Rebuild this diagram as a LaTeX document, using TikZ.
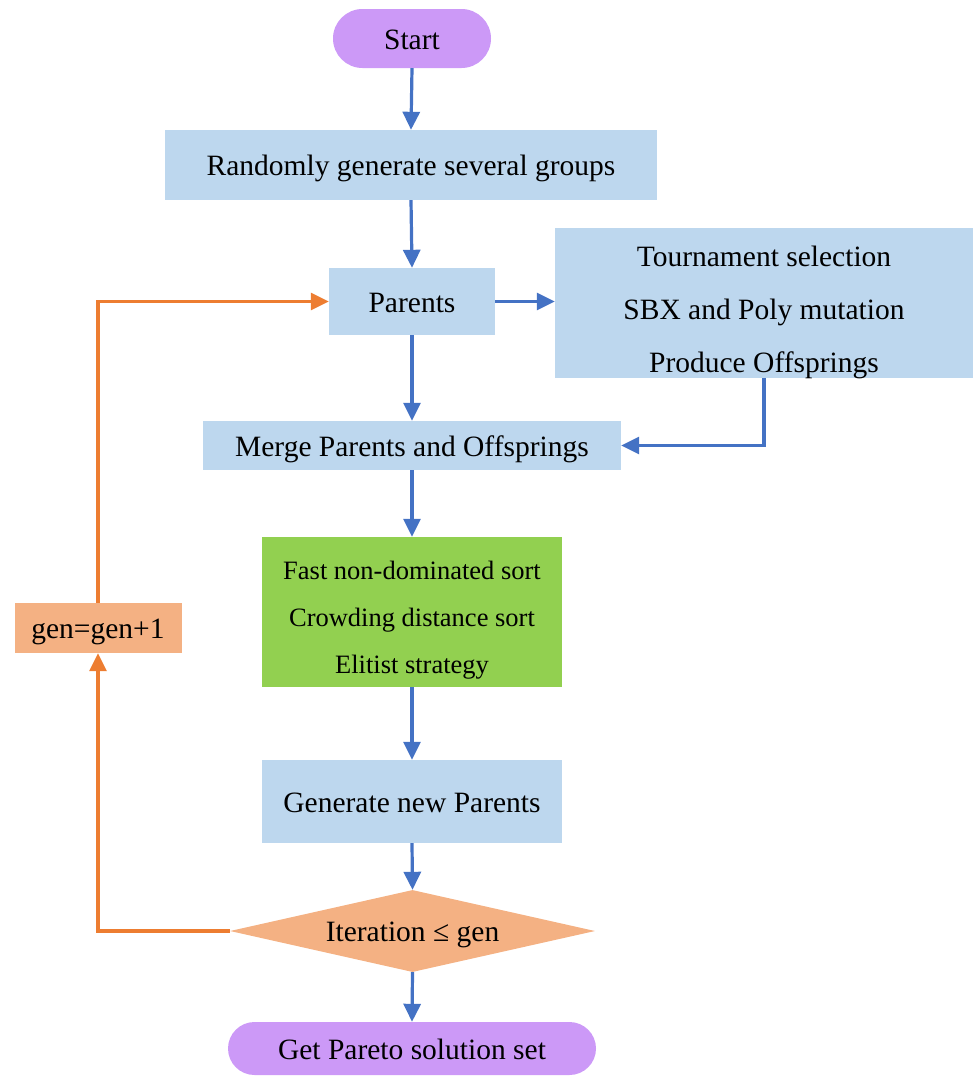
\documentclass[tikz,border=0pt]{standalone}
\usepackage{fontspec}
\setmainfont{Liberation Serif}
\usetikzlibrary{arrows.meta,shapes.geometric,shapes.misc}
\definecolor{cpurple}{HTML}{CC99F7}
\definecolor{cblue}{HTML}{BDD7EE}
\definecolor{cgreen}{HTML}{92D050}
\definecolor{corange}{HTML}{F4B183}
\definecolor{carrow}{HTML}{4472C4}
\definecolor{cloop}{HTML}{ED7D31}
\begin{document}
\begin{tikzpicture}[x=1pt,y=-1pt,
  txt/.style={font=\fontsize{29.5}{53}\selectfont, text=black, inner sep=0pt, align=center},
  oneline/.style={txt, text height=21pt, text depth=0pt},
  pill/.style={oneline, rounded rectangle, fill=cpurple},
  bluebox/.style={oneline, rectangle, fill=cblue},
  plainbox/.style={rectangle, inner sep=0pt},
  greentxt/.style={inner sep=0pt, align=center, font=\fontsize{26.5}{47}\selectfont},
  genbox/.style={oneline, rectangle, fill=corange},
  dia/.style={oneline, diamond, fill=corange, aspect=4.45},
  flow/.style={draw=carrow, line width=3.2pt, -{Triangle[length=18pt,width=17pt]}},
  loop/.style={draw=cloop, line width=3.2pt, -{Triangle[length=18pt,width=17pt]}}
]
\useasboundingbox (0,0) rectangle (973,1077);
\node[pill, minimum width=158, minimum height=59] (start) at (412,38.5) {Start};
\node[bluebox, minimum width=492, minimum height=70] (rand) at (411,165) {Randomly generate several groups};
\node[bluebox, minimum width=166, minimum height=67] (par) at (412,301.5) {Parents};
\node[plainbox, fill=cblue, minimum width=418, minimum height=150] (tour) at (764,303) {};
\node[txt] (tourtxt) at (764,312) {Tournament selection\\SBX and Poly mutation\\Produce Offsprings};
\node[bluebox, minimum width=418, minimum height=49] (merge) at (412,445.5) {Merge Parents and Offsprings};
\node[plainbox, fill=cgreen, minimum width=300, minimum height=150] (sort) at (412,612) {};
\node[greentxt] (sorttxt) at (412,620) {Fast non-dominated sort\\Crowding distance sort\\Elitist strategy};
\node[bluebox, minimum width=300, minimum height=83] (newp) at (412,801.5) {Generate new Parents};
\node[dia, minimum width=365, minimum height=82] (iter) at (412.5,931) {Iteration ≤ gen};
\node[pill, minimum width=368, minimum height=53] (pareto) at (412,1048.5) {Get Pareto solution set};
\node[genbox, minimum width=167, minimum height=50] (gen) at (98,628) {gen=gen+1};

\draw[flow] (start.south) -- (rand.north);
\draw[flow] (rand.north |- rand.south) -- (par.north);
\draw[flow] (par.east) -- (tour.west |- par.east);
\draw[flow] (par.south) -- (merge.north);
\draw[flow] (tour.south) |- (merge.east);
\draw[flow] (merge.south) -- (sort.north);
\draw[flow] (sort.south) -- (newp.north);
\draw[flow] (newp.south) -- (iter.north);
\draw[flow] (iter.south) -- (pareto.north);
\draw[loop] (iter.west) -| (gen.south);
\draw[loop] (gen.north) |- (par.west);
\end{tikzpicture}
\end{document}
